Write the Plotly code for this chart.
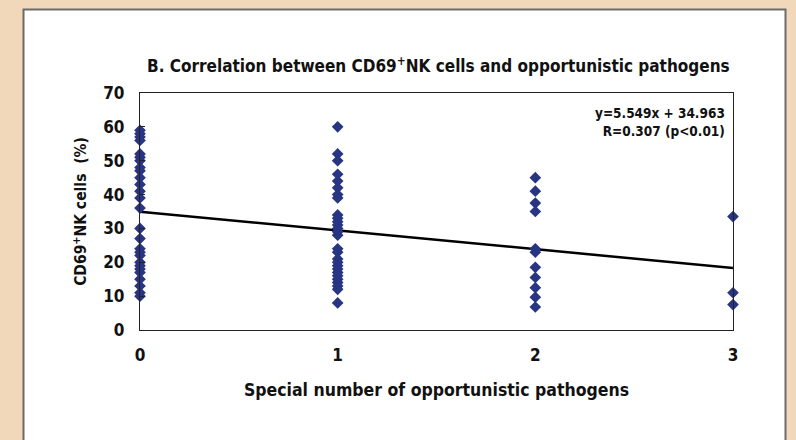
import plotly.graph_objects as go

# Data
x0_vals = [59, 58, 57, 56, 52, 51, 50, 48, 47, 45, 43, 41, 39, 36, 30, 27, 24, 23, 22, 20, 19, 18, 17, 15, 13, 11, 10]
x1_vals = [60, 52, 50, 46, 44, 42, 40, 39, 34, 33, 32, 31, 30, 29, 28, 24, 23, 21, 20, 19, 18, 17, 16, 15, 14, 13, 12, 8]
x2_vals = [45, 41, 37.5, 35, 24, 23, 18.5, 15.5, 12.5, 9.7, 6.8]
x3_vals = [33.5, 11, 7.5]

xs = [0] * len(x0_vals) + [1] * len(x1_vals) + [2] * len(x2_vals) + [3] * len(x3_vals)
ys = x0_vals + x1_vals + x2_vals + x3_vals

intercept = 34.963
slope = -5.549
line_x = [0, 3]
line_y = [intercept + slope * v for v in line_x]

y_ticks = [0, 10, 20, 30, 40, 50, 60, 70]
x_ticks = [0, 1, 2, 3]

FONT = "Liberation Sans Narrow, DejaVu Sans Condensed, Arial Narrow, sans-serif"

fig = go.Figure()
fig.add_trace(go.Scatter(x=line_x, y=line_y, mode="lines",
                         line=dict(color="#000000", width=2.5),
                         showlegend=False, hoverinfo="skip", cliponaxis=False))
fig.add_trace(go.Scatter(x=xs, y=ys, mode="markers",
                         marker=dict(symbol="diamond", size=9, color="#283583"),
                         showlegend=False, cliponaxis=False))

L, R, T, B = 140, 733, 93, 330
W, H = 796, 440

def px(xp):
    return (xp - L) / (R - L)

def py(yp):
    return (B - yp) / (B - T)

fig.add_shape(type="rect", xref="paper", yref="paper",
              x0=px(23.5), x1=px(785.5), y0=py(460), y1=py(9.5),
              fillcolor="white", line=dict(color="#6b6b6b", width=2), layer="below")

fig.add_annotation(xref="paper", yref="paper", x=px(438), y=py(65),
                   text="<b>B. Correlation between CD69<sup>+</sup>NK cells and opportunistic pathogens</b>",
                   showarrow=False, font=dict(family=FONT, size=17, color="#111"),
                   xanchor="center", yanchor="middle")
fig.add_annotation(xref="paper", yref="paper", x=px(727), y=py(122),
                   text="<b>y=5.549x + 34.963<br>R=0.307 (p&lt;0.01)</b>",
                   showarrow=False, align="right", font=dict(family=FONT, size=13.5, color="#111"),
                   xanchor="right", yanchor="middle")

fig.update_layout(
    width=W, height=H,
    margin=dict(l=L, r=W - R, t=T, b=H - B),
    paper_bgcolor="#F1D8BA", plot_bgcolor="white",
    font=dict(family=FONT, color="#111"),
    xaxis=dict(range=[0, 3], tickvals=x_ticks, ticktext=[f"<b>{v}</b>" for v in x_ticks],
               showgrid=False, zeroline=False, showline=True, linecolor="#222", linewidth=1.2,
               mirror=True, ticks="", tickfont=dict(size=17, family=FONT),
               ticklabelstandoff=9,
               title=dict(text="<b>Special number of opportunistic pathogens</b>",
                          font=dict(size=17.5, family=FONT), standoff=20)),
    yaxis=dict(range=[0, 70], tickvals=y_ticks, ticktext=[f"<b>{v}</b>" for v in y_ticks],
               showgrid=False, zeroline=False, showline=True, linecolor="#222", linewidth=1.2,
               mirror=True, ticks="inside", ticklen=5, tickcolor="#222",
               tickfont=dict(size=17, family=FONT), ticklabelstandoff=11,
               title=dict(text="<b>CD69<sup>+</sup>NK cells  (%)</b>",
                          font=dict(size=15.5, family=FONT), standoff=12)),
)

fig.write_html("out.html", config={"displayModeBar": False},
               post_script="document.body.style.margin='0';document.body.style.padding='0';")
